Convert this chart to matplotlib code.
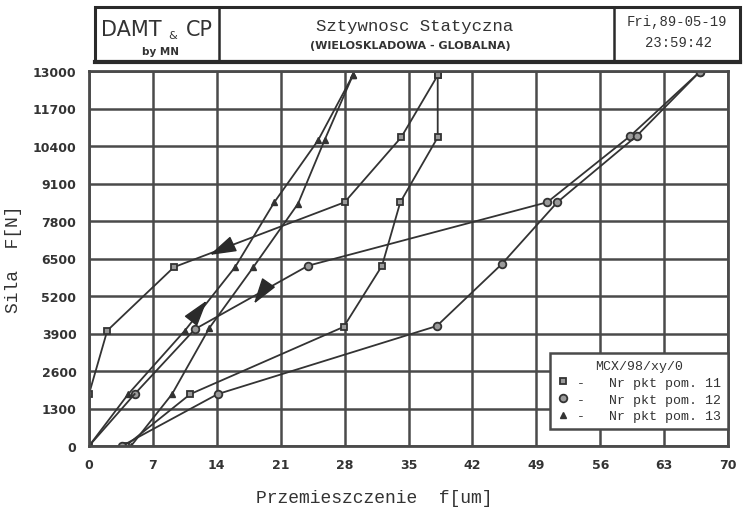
import matplotlib
matplotlib.use("Agg")
import numpy as np
import matplotlib.pyplot as plt
from matplotlib.patches import Rectangle
from matplotlib.lines import Line2D

# ------------------------------------------------------
# Data: displacement f[um] vs force F[N], load / unload per measuring point
p11_load_x = [0.0, 0.0, 2.0, 9.3, 28.0, 34.2, 38.2]
p11_load_y = [0, 1800, 4000, 6200, 8450, 10700, 12850]
p11_unload_x = [38.2, 38.2, 34.1, 32.1, 27.9, 11.1, 4.0]
p11_unload_y = [12850, 10700, 8450, 6250, 4130, 1800, 0]

p12_load_x = [0.0, 5.0, 11.6, 24.0, 50.2, 59.3, 66.9]
p12_load_y = [0, 1800, 4050, 6250, 8450, 10750, 12970]
p12_unload_x = [66.9, 60.0, 51.3, 45.2, 38.1, 14.1, 3.6]
p12_unload_y = [12970, 10750, 8450, 6300, 4160, 1800, 0]

p13_load_x = [0.0, 4.3, 10.5, 16.0, 20.3, 25.1, 28.9]
p13_load_y = [0, 1800, 4000, 6200, 8450, 10600, 12850]
p13_unload_x = [28.9, 25.8, 22.9, 18.0, 13.2, 9.1, 4.6]
p13_unload_y = [12850, 10600, 8400, 6200, 4100, 1800, 0]

# direction arrows (big filled triangles)
arrow_x = [14.7, 11.8, 19.0]
arrow_y = [6860, 4650, 5370]
arrow_ang = [205, 52, 235]

x_ticks = [0, 7, 14, 21, 28, 35, 42, 49, 56, 63, 70]
y_ticks = [0, 1300, 2600, 3900, 5200, 6500, 7800, 9100, 10400, 11700, 13000]

legend_labels = ["-   Nr pkt pom. 11", "-   Nr pkt pom. 12", "-   Nr pkt pom. 13"]

# ------------------------------------------------------
ink = "#333333"
grid_c = "#4a4a4a"
narrow = ["Liberation Sans Narrow", "DejaVu Sans"]
mono = ["Liberation Mono", "DejaVu Sans Mono"]

W, H = 744, 510
fig = plt.figure(figsize=(W / 100, H / 100), dpi=100)
fig.patch.set_facecolor("white")

ax = fig.add_axes([89 / W, 1 - 447 / H, 639 / W, 375 / H])
ax.set_xlim(0, 70)
ax.set_ylim(0, 13000)
ax.set_xticks(x_ticks)
ax.set_yticks(y_ticks)
ax.grid(True, color=grid_c, linewidth=1.8)
ax.set_axisbelow(True)
for s in ax.spines.values():
    s.set_color(grid_c)
    s.set_linewidth(2.0)
ax.tick_params(axis="y", length=0, pad=9, colors=ink)
ax.tick_params(axis="x", length=0, pad=9, colors=ink)
for lab in ax.get_xticklabels() + ax.get_yticklabels():
    lab.set_family(narrow)
    lab.set_fontsize(9)
    lab.set_fontweight("bold")


def marker_style(kind):
    if kind == "s":
        return dict(marker="s", markersize=5, markerfacecolor="#9a9a9a", markeredgecolor=ink, markeredgewidth=1.3)
    if kind == "o":
        return dict(marker="o", markersize=5.5, markerfacecolor="#9a9a9a", markeredgecolor=ink, markeredgewidth=1.3)
    return dict(marker="^", markersize=5, markerfacecolor=ink, markeredgecolor=ink)


lw = 1.3
ax.plot(p11_load_x, p11_load_y, color=ink, lw=lw, **marker_style("s"))
ax.plot(p11_unload_x, p11_unload_y, color=ink, lw=lw, **marker_style("s"))
ax.plot(p12_load_x[1:], p12_load_y[1:], color=ink, lw=lw, **marker_style("o"))
ax.plot(p12_load_x[:2], p12_load_y[:2], color=ink, lw=lw)
ax.plot(p12_unload_x, p12_unload_y, color=ink, lw=lw, **marker_style("o"))
ax.plot(p13_load_x[1:], p13_load_y[1:], color=ink, lw=lw, **marker_style("^"))
ax.plot(p13_load_x[:2], p13_load_y[:2], color=ink, lw=lw)
ax.plot(p13_unload_x, p13_unload_y, color=ink, lw=lw, **marker_style("^"))

# elongated arrowhead marker, rotated per arrow
base = np.array([[1.0, 0.0], [-0.8, 0.55], [-0.8, -0.55], [1.0, 0.0]])
for xa, ya, ang in zip(arrow_x, arrow_y, arrow_ang):
    t = np.radians(ang)
    rot = np.array([[np.cos(t), -np.sin(t)], [np.sin(t), np.cos(t)]])
    verts = base @ rot.T
    ax.plot([xa], [ya], marker=verts, markersize=18, color="#2a2a2a", zorder=5)

# axis labels
ax.set_ylabel("Sila  F[N]", family=mono, fontsize=13, color=ink)
ax.yaxis.set_label_coords((22 - 89) / 639, 0.5)
ax.set_xlabel("Przemieszczenie  f[um]", family=mono, fontsize=13, color=ink)
ax.xaxis.set_label_coords((374 - 89) / 639, -0.115)

# legend box
handles = [
    Line2D([], [], linestyle="none", **marker_style("s")),
    Line2D([], [], linestyle="none", **marker_style("o")),
    Line2D([], [], linestyle="none", **marker_style("^")),
]
leg = ax.legend(handles, legend_labels, title="MCX/98/xy/0", loc="lower right",
                bbox_to_anchor=(1.0, 17 / 375), borderaxespad=0, fancybox=False,
                framealpha=1, edgecolor=grid_c, handlelength=1.0, handletextpad=0.6,
                labelspacing=0.35, borderpad=0.5, prop={"family": mono, "size": 9.5},
                title_fontproperties={"family": mono, "size": 9.5})
leg.get_frame().set_linewidth(1.8)
for t in leg.get_texts():
    t.set_color(ink)
leg.get_title().set_color(ink)

# ------------------------------------------------------
# header box
def fx(px):
    return px / W


def fy(py):
    return 1 - py / H


fig.patches.append(Rectangle((fx(95), fy(62)), fx(740) - fx(95), fy(8) - fy(62),
                             transform=fig.transFigure, fill=False, edgecolor="#2a2a2a",
                             linewidth=2.2))
for xd in (219, 614):
    fig.add_artist(Line2D([fx(xd), fx(xd)], [fy(62), fy(8)], transform=fig.transFigure,
                          color="#2a2a2a", linewidth=1.8))
fig.add_artist(Line2D([fx(95), fx(740)], [fy(63), fy(63)], transform=fig.transFigure,
                      color="#2a2a2a", linewidth=3.0))

fig.text(fx(131), fy(30), "DAMT", family=narrow, fontsize=15, color=ink, ha="center", va="center")
fig.text(fx(173), fy(36), "&", family=narrow, fontsize=8, color=ink, ha="center", va="center")
fig.text(fx(199), fy(30), "CP", family=narrow, fontsize=15, color=ink, ha="center", va="center")
fig.text(fx(160), fy(52), "by MN", family=narrow, fontsize=7.5, fontweight="bold", color=ink,
         ha="center", va="center")

fig.text(fx(415), fy(27), "Sztywnosc Statyczna", family=mono, fontsize=12.5, color=ink,
         ha="center", va="center")
fig.text(fx(410), fy(46), "(WIELOSKLADOWA - GLOBALNA)", family=narrow, fontsize=8,
         fontweight="bold", color=ink, ha="center", va="center")

fig.text(fx(677), fy(22), "Fri,89-05-19", family=mono, fontsize=10, color=ink,
         ha="center", va="center")
fig.text(fx(678), fy(43), "23:59:42", family=mono, fontsize=10, color=ink,
         ha="center", va="center")

fig.savefig("out.png", dpi=100)
